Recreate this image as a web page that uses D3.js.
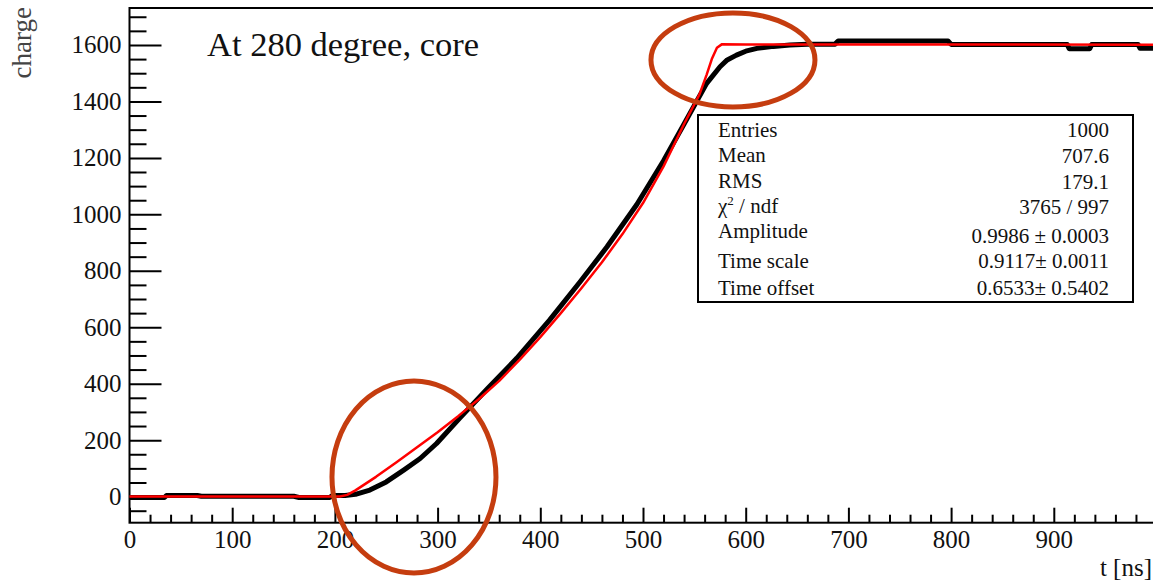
<!DOCTYPE html>
<html>
<head>
<meta charset="utf-8">
<script src="https://cdn.jsdelivr.net/npm/d3@7"></script>
<style>
  body { margin: 0; background: #fff; }
  svg { display: block; font-family: "Liberation Serif", "Times New Roman", serif; }
</style>
</head>
<body>
<div id="chart"></div>
<script>
const dataT = [0, 34, 36, 66, 70, 160, 165, 195, 198, 210, 220, 234, 250, 267, 283, 299, 322, 348, 377, 409, 439, 465, 494, 520, 540, 552, 562, 575, 582, 591, 600, 611, 627, 643, 660, 687, 690, 797, 800, 913, 915, 935, 937, 982, 984, 1000];
const dataQ = [-3, -3, 4, 4, 1, 1, -3, -3, 4, 4, 8, 23, 52, 94, 135, 188, 280, 380, 490, 625, 762, 885, 1035, 1190, 1320, 1399, 1464, 1523, 1547, 1564, 1578, 1588, 1595, 1600, 1603, 1603, 1614, 1614, 1602, 1602, 1587, 1587, 1602, 1602, 1588, 1588];

const fitT = [0, 205, 212, 220, 240, 260, 280, 300, 320, 340, 360, 380, 400, 420, 440, 460, 480, 500, 520, 540, 555, 562, 567, 572, 577, 600, 1000];
const fitQ = [0, 0, 6, 22, 70, 122, 175, 228, 285, 345, 410, 485, 565, 650, 738, 830, 930, 1040, 1170, 1320, 1425, 1495, 1550, 1590, 1603, 1602, 1601];

const xMajor = [0, 100, 200, 300, 400, 500, 600, 700, 800, 900];
const yMajor = [0, 200, 400, 600, 800, 1000, 1200, 1400, 1600];

const statLabels = ["Entries", "Mean", "RMS", "chi2", "Amplitude", "Time scale", "Time offset"];
const statValues = ["1000", "707.6", "179.1", "3765 / 997", "0.9986 \u00b1 0.0003", "0.9117\u00b1 0.0011", "0.6533\u00b1 0.5402"];

// hand-drawn highlight rings: centre in data units
const ringT = [587.6, 277];
const ringQ = [1547, 69.4];

const titleText = "At 280 degree, core";
const xTitle = "t [ns]";
const yTitle = "charge";

const W = 1153, H = 582;
const frame = {left: 129.5, right: 1156.5, top: 8, bottom: 522.7};

const svg = d3.select("#chart").append("svg")
    .attr("width", W)
    .attr("height", H);

svg.append("rect").attr("width", W).attr("height", H).attr("fill", "#fff");

const x = d3.scaleLinear().domain([0, 1000]).range([frame.left, frame.right]);
const y = d3.scaleLinear().domain([-92.5, 1731]).range([frame.bottom, frame.top]);

// frame
svg.append("rect")
    .attr("x", frame.left)
    .attr("y", frame.top)
    .attr("width", frame.right - frame.left)
    .attr("height", frame.bottom - frame.top)
    .attr("fill", "none")
    .attr("stroke", "#000")
    .attr("stroke-width", 2);

// minor ticks
const xMinor = d3.range(0, 1001, 20).filter(v => v % 100 !== 0);
const yMinor = d3.range(-50, 1701, 50).filter(v => v % 200 !== 0);

svg.append("g")
    .attr("transform", `translate(0,${frame.bottom})`)
    .call(d3.axisBottom(x).tickValues(xMinor).tickSize(-8).tickFormat(""))
    .call(g => g.select(".domain").remove());

svg.append("g")
    .attr("transform", `translate(${frame.left},0)`)
    .call(d3.axisLeft(y).tickValues(yMinor).tickSize(-17).tickFormat(""))
    .call(g => g.select(".domain").remove());

// major ticks + labels
svg.append("g")
    .attr("transform", `translate(0,${frame.bottom})`)
    .call(d3.axisBottom(x).tickValues(xMajor).tickSize(-15).tickPadding(7.5).tickFormat(d3.format("d")))
    .call(g => g.select(".domain").remove());

svg.append("g")
    .attr("transform", `translate(${frame.left},0)`)
    .call(d3.axisLeft(y).tickValues(yMajor).tickSize(-32).tickPadding(8).tickFormat(d3.format("d")))
    .call(g => g.select(".domain").remove());

svg.selectAll(".tick line").attr("stroke", "#000").attr("stroke-width", 2);
svg.selectAll(".tick text")
    .attr("font-family", "Liberation Serif, serif")
    .attr("font-size", 25)
    .attr("fill", "#111");

// axis titles
svg.append("text")
    .attr("x", 1152)
    .attr("y", 576)
    .attr("text-anchor", "end")
    .attr("font-size", 25)
    .attr("fill", "#111")
    .text(xTitle);

svg.append("text")
    .attr("transform", "translate(31,7) rotate(-90)")
    .attr("text-anchor", "end")
    .attr("font-size", 27)
    .attr("fill", "#444")
    .text(yTitle);

// title
svg.append("text")
    .attr("x", 207)
    .attr("y", 56)
    .attr("font-size", 34.5)
    .attr("fill", "#111")
    .text(titleText);

// data + fit
const line = d3.line().x(d => x(d[0])).y(d => y(d[1]));

svg.append("path")
    .datum(d3.zip(dataT, dataQ))
    .attr("d", line)
    .attr("fill", "none")
    .attr("stroke", "#000")
    .attr("stroke-width", 5)
    .attr("stroke-linejoin", "round");

svg.append("path")
    .datum(d3.zip(fitT, fitQ))
    .attr("d", line)
    .attr("fill", "none")
    .attr("stroke", "#ff0000")
    .attr("stroke-width", 2.5)
    .attr("stroke-linejoin", "round");

// stats box
const box = {x: 698, y: 115, w: 435, h: 187};
const rowBase = [137, 162, 188, 213, 238, 268, 295];
const valBase = [137, 163, 189, 214, 243, 268, 295];

const stats = svg.append("g");
stats.append("rect")
    .attr("x", box.x).attr("y", box.y)
    .attr("width", box.w).attr("height", box.h)
    .attr("fill", "#fff")
    .attr("stroke", "#000")
    .attr("stroke-width", 2);

statLabels.forEach((lab, i) => {
    const t = stats.append("text")
        .attr("x", box.x + 20)
        .attr("y", rowBase[i])
        .attr("font-size", 21)
        .attr("fill", "#111");
    if (lab === "chi2") {
        t.append("tspan").text("\u03c7");
        t.append("tspan").attr("font-size", 13).attr("dy", -8).text("2");
        t.append("tspan").attr("dy", 8).text(" / ndf");
    } else {
        t.text(lab);
    }
    stats.append("text")
        .attr("x", box.x + box.w - 24)
        .attr("y", valBase[i])
        .attr("text-anchor", "end")
        .attr("font-size", 21)
        .attr("fill", "#111")
        .text(statValues[i]);
});

// highlight rings
const ringRx = [82, 82];
const ringRy = [47, 96];
svg.selectAll(".ring")
    .data(d3.range(ringT.length))
    .enter()
    .append("ellipse")
    .attr("class", "ring")
    .attr("cx", i => x(ringT[i]))
    .attr("cy", i => y(ringQ[i]))
    .attr("rx", i => ringRx[i])
    .attr("ry", i => ringRy[i])
    .attr("fill", "none")
    .attr("stroke", "#c53d0f")
    .attr("stroke-width", 5);
</script>
</body>
</html>
